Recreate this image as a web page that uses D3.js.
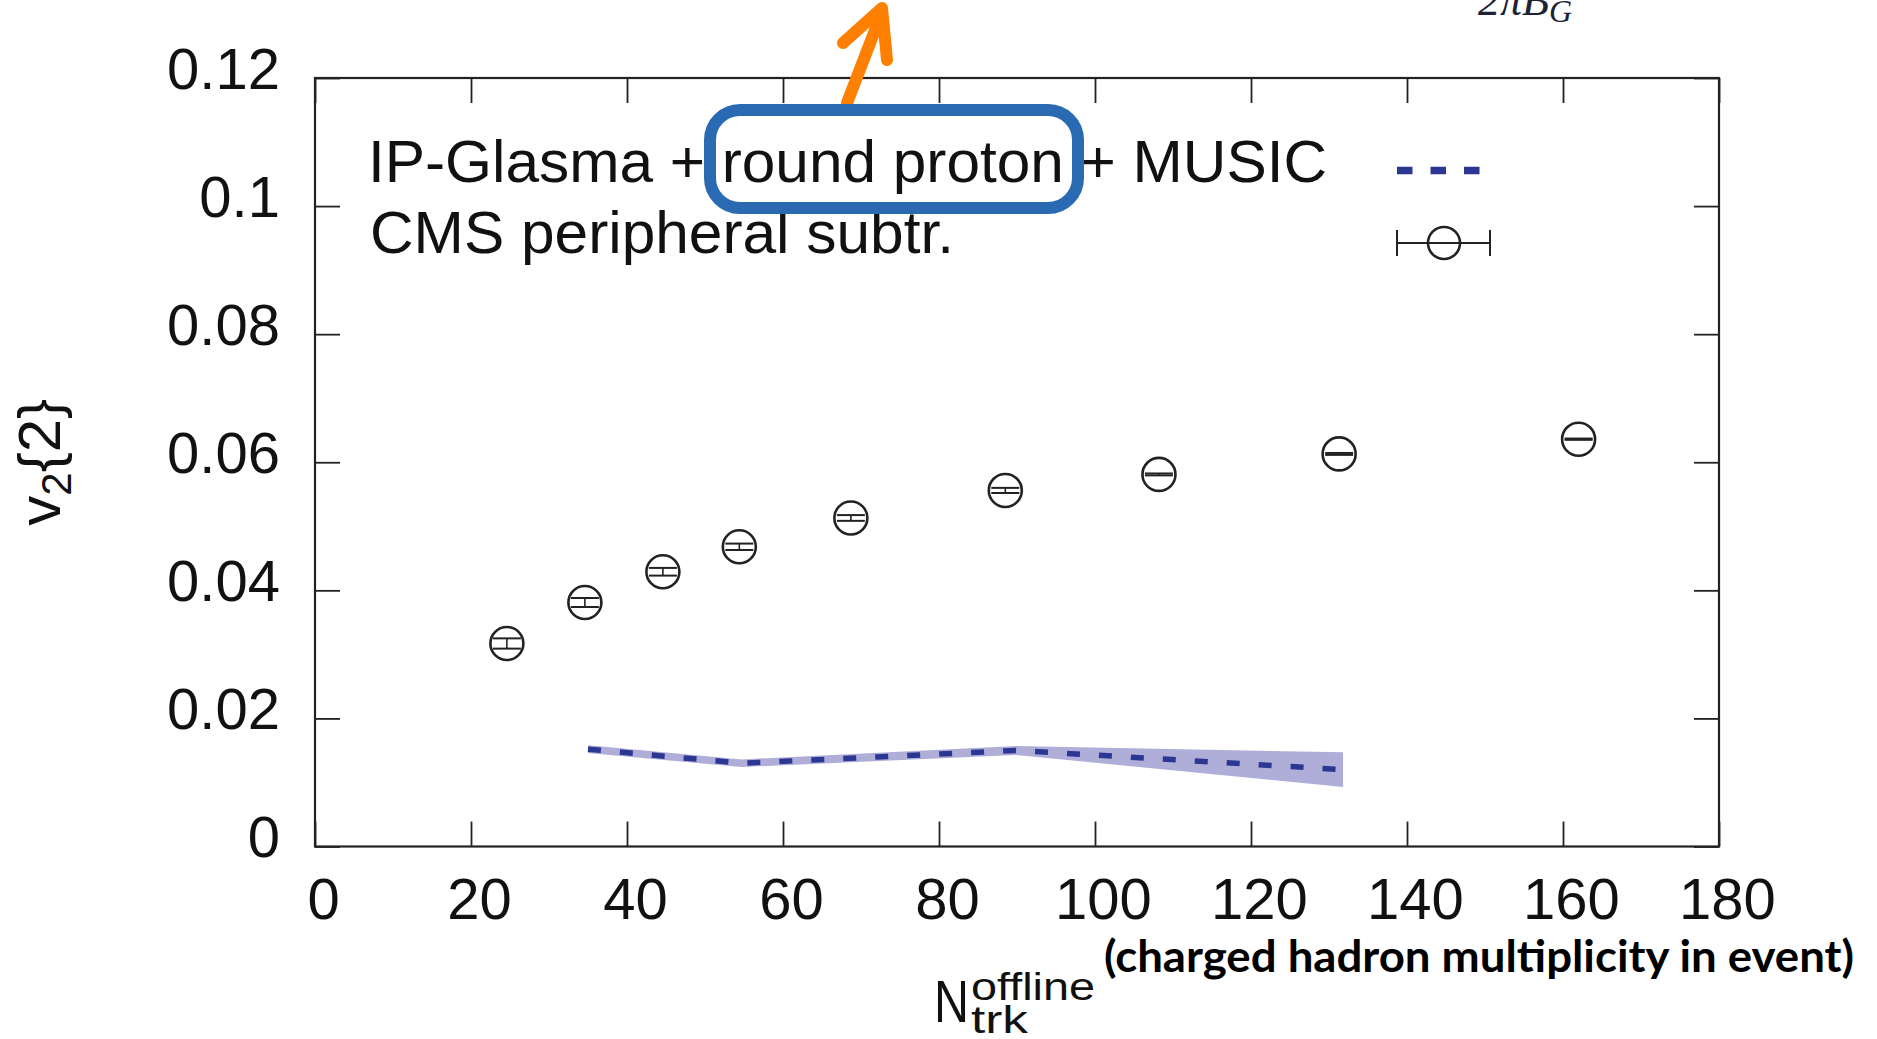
<!DOCTYPE html>
<html>
<head>
<meta charset="utf-8">
<script src="https://cdn.jsdelivr.net/npm/d3@7"></script>
<style>
  body { margin: 0; background: #fff; }
  svg { display: block; }
</style>
</head>
<body>
<div id="chart"></div>
<script>
// CMS peripheral subtracted data
var nTrk = [24.6, 34.6, 44.6, 54.4, 68.7, 88.5, 108.2, 131.3, 162.0];
var v2 = [0.0317, 0.0381, 0.0429, 0.0468, 0.0513, 0.0556, 0.0581, 0.0613, 0.0636];
var v2Err = [0.0008, 0.0007, 0.0006, 0.0005, 0.00045, 0.0004, 0.00015, 0.00015, 0.0001];

// IP-Glasma + round proton + MUSIC curve and band
var modelN = [35.0, 54.7, 89.8, 131.8];
var modelV2 = [0.0152, 0.0130, 0.0150, 0.0120];
var modelLo = [0.0146, 0.0124, 0.0143, 0.0093];
var modelHi = [0.0158, 0.0136, 0.0157, 0.0147];

var xTicks = [0, 20, 40, 60, 80, 100, 120, 140, 160, 180];
var yTicks = [0, 0.02, 0.04, 0.06, 0.08, 0.1, 0.12];
var yTickLabels = ['0', '0.02', '0.04', '0.06', '0.08', '0.1', '0.12'];

var legendModel = 'IP-Glasma + round proton + MUSIC';
var legendData = 'CMS peripheral subtr.';
var xNote = '(charged hadron multiplicity in event)';

var width = 1877,
    height = 1039,
    plotLeft = 315,
    plotRight = 1719,
    plotTop = 78,
    plotBottom = 846.5,
    tickLen = 25;

var frameColor = '#222',
    bandColor = '#aeaed8',
    lineColor = '#2b3792',
    boxColor = '#2a6ab3',
    arrowColor = '#ff7f00';

var fontFamily = '"Liberation Sans", Arial, Helvetica, sans-serif';

var x = d3.scaleLinear().domain([0, 180]).range([plotLeft, plotRight]);
var y = d3.scaleLinear().domain([0, 0.12]).range([plotBottom, plotTop]);

var svg = d3.select('#chart')
  .append('svg')
  .attr('width', width)
  .attr('height', height);

// model band and dashed curve
var model = modelN.map(function(n, i) {
  return { n: n, v: modelV2[i], lo: modelLo[i], hi: modelHi[i] };
});

svg.append('path')
  .datum(model)
  .attr('fill', bandColor)
  .attr('d', d3.area()
    .x(function(d) { return x(d.n); })
    .y0(function(d) { return y(d.lo); })
    .y1(function(d) { return y(d.hi); }));

svg.append('path')
  .datum(model)
  .attr('fill', 'none')
  .attr('stroke', lineColor)
  .attr('stroke-width', 5.5)
  .attr('stroke-dasharray', '13,19')
  .attr('d', d3.line()
    .x(function(d) { return x(d.n); })
    .y(function(d) { return y(d.v); }));

// axes, ticks point inward
function styleAxis(g) {
  g.select('.domain').remove();
  g.selectAll('.tick line').attr('stroke', frameColor).attr('stroke-width', 1.8);
  g.selectAll('text')
    .attr('fill', '#111')
    .style('font-family', fontFamily)
    .style('font-size', '58px');
}

svg.append('g')
  .attr('transform', 'translate(0,' + plotBottom + ')')
  .call(d3.axisBottom(x).tickValues(xTicks).tickSize(-tickLen).tickPadding(31))
  .call(styleAxis)
  .selectAll('text').attr('dx', 8);

svg.append('g')
  .attr('transform', 'translate(0,' + plotTop + ')')
  .call(d3.axisTop(x).tickValues(xTicks).tickSize(-tickLen).tickFormat(''))
  .call(styleAxis);

svg.append('g')
  .attr('transform', 'translate(' + plotLeft + ',0)')
  .call(d3.axisLeft(y).tickValues(yTicks).tickSize(-tickLen).tickPadding(35)
    .tickFormat(function(d, i) { return yTickLabels[i]; }))
  .call(styleAxis)
  .selectAll('text').attr('dy', '0.18em');

svg.append('g')
  .attr('transform', 'translate(' + plotRight + ',0)')
  .call(d3.axisRight(y).tickValues(yTicks).tickSize(-tickLen).tickFormat(''))
  .call(styleAxis);

// frame
svg.append('rect')
  .attr('x', plotLeft)
  .attr('y', plotTop)
  .attr('width', plotRight - plotLeft)
  .attr('height', plotBottom - plotTop)
  .attr('fill', 'none')
  .attr('stroke', frameColor)
  .attr('stroke-width', 2.2);

// data points: open circles with vertical error bars
var points = nTrk.map(function(n, i) {
  return { n: n, v: v2[i], e: v2Err[i] };
});

var radius = 16.5,
    capHalf = 14;

var pt = svg.append('g')
  .selectAll('g')
  .data(points)
  .enter()
  .append('g')
  .attr('stroke', frameColor)
  .attr('fill', 'none');

pt.append('circle')
  .attr('cx', function(d) { return x(d.n); })
  .attr('cy', function(d) { return y(d.v); })
  .attr('r', radius)
  .attr('stroke-width', 2.6);

pt.append('line')
  .attr('x1', function(d) { return x(d.n); })
  .attr('x2', function(d) { return x(d.n); })
  .attr('y1', function(d) { return y(d.v - d.e); })
  .attr('y2', function(d) { return y(d.v + d.e); })
  .attr('stroke-width', 1.6);

pt.append('line')
  .attr('x1', function(d) { return x(d.n) - capHalf; })
  .attr('x2', function(d) { return x(d.n) + capHalf; })
  .attr('y1', function(d) { return y(d.v + d.e); })
  .attr('y2', function(d) { return y(d.v + d.e); })
  .attr('stroke-width', 2);

pt.append('line')
  .attr('x1', function(d) { return x(d.n) - capHalf; })
  .attr('x2', function(d) { return x(d.n) + capHalf; })
  .attr('y1', function(d) { return y(d.v - d.e); })
  .attr('y2', function(d) { return y(d.v - d.e); })
  .attr('stroke-width', 2);

// legend
var legend = svg.append('g')
  .style('font-family', fontFamily)
  .style('font-size', '60px')
  .attr('fill', '#111');

legend.append('text')
  .attr('x', 368)
  .attr('y', 182)
  .attr('textLength', 959)
  .attr('lengthAdjust', 'spacingAndGlyphs')
  .text(legendModel);

legend.append('text')
  .attr('x', 370)
  .attr('y', 253)
  .attr('textLength', 584)
  .attr('lengthAdjust', 'spacingAndGlyphs')
  .text(legendData);

legend.append('line')
  .attr('x1', 1397)
  .attr('x2', 1480)
  .attr('y1', 170.5)
  .attr('y2', 170.5)
  .attr('stroke', lineColor)
  .attr('stroke-width', 7.5)
  .attr('stroke-dasharray', '15.5,18');

var lg = legend.append('g')
  .attr('stroke', frameColor)
  .attr('fill', 'none');
lg.append('line').attr('x1', 1397).attr('x2', 1490).attr('y1', 243).attr('y2', 243).attr('stroke-width', 2);
lg.append('line').attr('x1', 1397).attr('x2', 1397).attr('y1', 230).attr('y2', 256).attr('stroke-width', 2);
lg.append('line').attr('x1', 1490).attr('x2', 1490).attr('y1', 230).attr('y2', 256).attr('stroke-width', 2);
lg.append('circle').attr('cx', 1444).attr('cy', 243).attr('r', 16).attr('stroke-width', 2.6);

// y axis title: v2{2}
var yTitle = svg.append('text')
  .attr('transform', 'translate(60,' + ((plotTop + plotBottom) / 2) + ') rotate(-90)')
  .attr('text-anchor', 'middle')
  .attr('fill', '#111')
  .style('font-family', fontFamily)
  .style('font-size', '60px');
yTitle.append('tspan').text('v');
yTitle.append('tspan').attr('dy', 11).style('font-size', '42px').text('2');
yTitle.append('tspan').attr('dy', -11).text('{2}');

// x axis title: N_trk^offline
var xTitle = svg.append('g')
  .attr('fill', '#111')
  .style('font-family', fontFamily);
xTitle.append('text')
  .attr('x', 934)
  .attr('y', 1022)
  .attr('textLength', 35)
  .attr('lengthAdjust', 'spacingAndGlyphs')
  .style('font-size', '60px')
  .text('N');
xTitle.append('text')
  .attr('x', 971)
  .attr('y', 1000)
  .attr('textLength', 124)
  .attr('lengthAdjust', 'spacingAndGlyphs')
  .style('font-size', '38px')
  .text('offline');
xTitle.append('text')
  .attr('x', 971)
  .attr('y', 1033)
  .attr('textLength', 57)
  .attr('lengthAdjust', 'spacingAndGlyphs')
  .style('font-size', '38px')
  .text('trk');

svg.append('text')
  .attr('x', 1104)
  .attr('y', 972)
  .attr('textLength', 750)
  .attr('lengthAdjust', 'spacingAndGlyphs')
  .attr('fill', '#000')
  .style('font-family', 'Lato, "Open Sans", sans-serif')
  .style('font-weight', 'bold')
  .style('font-size', '44px')
  .text(xNote);

// annotation: arrow and highlight box round "round proton"
svg.append('path')
  .attr('d', 'M847,103 L882,12 M843,43 L882,8 L887,60')
  .attr('fill', 'none')
  .attr('stroke', arrowColor)
  .attr('stroke-width', 12)
  .attr('stroke-linecap', 'round')
  .attr('stroke-linejoin', 'round');

svg.append('rect')
  .attr('x', 710)
  .attr('y', 110)
  .attr('width', 368)
  .attr('height', 98)
  .attr('rx', 30)
  .attr('fill', 'none')
  .attr('stroke', boxColor)
  .attr('stroke-width', 12);

// cut-off formula at the top edge
var formula = svg.append('text')
  .attr('x', 1478)
  .attr('y', 15)
  .attr('fill', '#1c2336')
  .style('font-family', '"Liberation Serif", "DejaVu Serif", serif')
  .style('font-style', 'italic')
  .style('font-size', '44px');
formula.append('tspan').text('2πB');
formula.append('tspan').attr('dy', 7).style('font-size', '32px').text('G');
</script>
</body>
</html>
